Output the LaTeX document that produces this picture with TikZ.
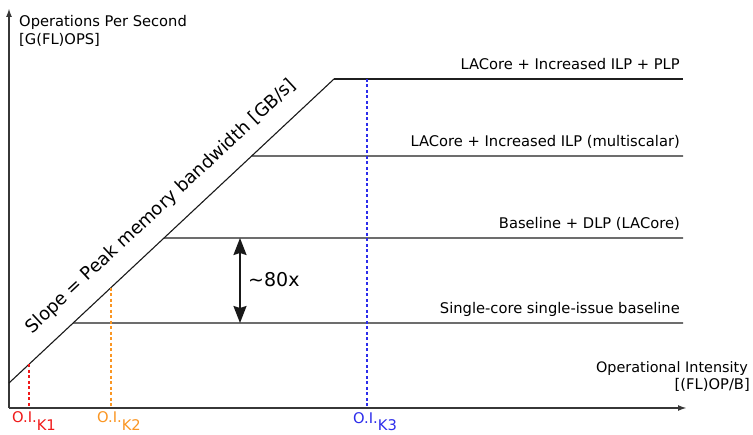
\documentclass[tikz,border=0pt]{standalone}
\usepackage{fontspec}
\setmainfont{DejaVu Sans}
\usetikzlibrary{arrows.meta,calc}
\definecolor{oired}{RGB}{240,25,25}
\definecolor{oiorange}{RGB}{250,150,35}
\definecolor{oiblue}{RGB}{45,45,235}
\definecolor{axisgray}{RGB}{55,55,55}
\begin{document}
\begin{tikzpicture}[x=1pt,y=-1pt,
  axis/.style={line width=2pt, draw=axisgray, -{Latex[length=9pt,width=6pt]}},
  roof/.style={line width=1.3pt, draw=black!88},
  slopeln/.style={line width=1.1pt, draw=black!90},
  lbl/.style={font=\fontsize{14.7}{17}\selectfont, inner sep=0pt},
  guide/.style={line width=1.4pt, dash pattern=on 3pt off 2.5pt},
  gap/.style={line width=2pt, draw=black!90,
    {Stealth[length=17pt,width=13pt,inset=2pt]}-{Stealth[length=17pt,width=13pt,inset=2pt]}},
  ]
\useasboundingbox (0,0) rectangle (753,435);

% axes
\coordinate (O) at (9,408);
\coordinate (ytip) at (9,8);
\coordinate (xtip) at (687,408);
\draw[axis] (O) -- (ytip);
\draw[axis] (O) -- (xtip);

\node[lbl, anchor=base west] (ylab) at (19,27) {Operations Per Second};
\node[lbl, anchor=base west] (yunit) at (19,45) {[G(FL)OPS]};
\node[lbl, anchor=base east, font=\fontsize{14.4}{17}\selectfont] (xlab) at (748,373) {Operational Intensity};
\node[lbl, anchor=base east] (xunit) at (750,390) {[(FL)OP/B]};

% memory-bound roof
\coordinate (s0) at (9,383);
\coordinate (s1) at (334,79);
\draw[slopeln] (s0) -- (s1);

% compute-bound roofs
\coordinate (r1) at (683,79);
\coordinate (l2) at ($(s0)!0.7467!(s1)$);
\coordinate (l3) at ($(s0)!0.4770!(s1)$);
\coordinate (l4) at ($(s0)!0.1974!(s1)$);
\coordinate (r2) at (683,156);
\coordinate (r3) at (683,238);
\coordinate (r4) at (683,323);
\draw[roof] (s1) -- (r1);
\draw[roof] (l2) -- (r2);
\draw[roof] (l3) -- (r3);
\draw[roof] (l4) -- (r4);

\node[lbl, anchor=base east] (t1) at (680,70) {LACore + Increased ILP + PLP};
\node[lbl, anchor=base east] (t2) at (680,147) {LACore + Increased ILP (multiscalar)};
\node[lbl, anchor=base east] (t3) at (680,229) {Baseline + DLP (LACore)};
\node[lbl, anchor=base east] (t4) at (680,314) {Single-core single-issue baseline};

% slope label
\path (s0) -- (s1) coordinate[pos=0.52] (smid);
\node[rotate=43.08, anchor=base, inner sep=0pt, font=\fontsize{18}{21}\selectfont]
  (slopelbl) at ($(smid)!20pt!90:(s1)$) {Slope = Peak memory bandwidth [GB/s]};

% improvement arrow
\coordinate (a1) at (240,238);
\coordinate (a2) at (240,323);
\draw[gap] (a1) -- (a2);
\node[anchor=base west, inner sep=0pt, font=\fontsize{19}{22}\selectfont] (gain) at (248,287) {\textasciitilde80x};

% kernel operational intensities
\coordinate (k1) at ($(s0)!0.06154!(s1)$);
\coordinate (k2) at ($(s0)!0.31385!(s1)$);
\coordinate (k3) at (367,79);
\draw[guide, oired] (k1) -- (k1 |- O);
\draw[guide, oiorange] (k2) -- (k2 |- O);
\draw[guide, oiblue] (k3) -- (k3 |- O);

\node[lbl, anchor=base west, text=oired] (k1lbl) at (12,423) {O.I.\raisebox{-7.5pt}{K1}};
\node[lbl, anchor=base west, text=oiorange] (k2lbl) at (97,423) {O.I.\raisebox{-7.5pt}{K2}};
\node[lbl, anchor=base west, text=oiblue] (k3lbl) at (353,424) {O.I.\raisebox{-7pt}{K3}};
\end{tikzpicture}
\end{document}
